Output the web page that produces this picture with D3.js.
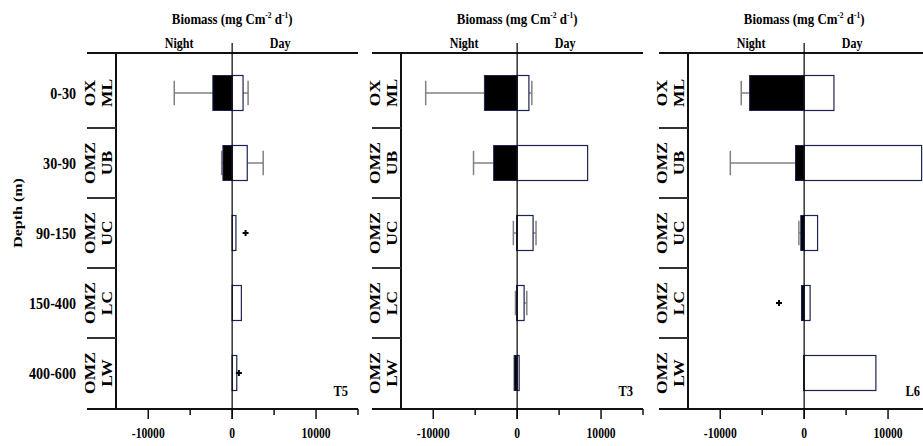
<!DOCTYPE html>
<html>
<head>
<meta charset="utf-8">
<script src="https://cdn.jsdelivr.net/npm/d3@7"></script>
<style>
  body { margin: 0; background: #fff; }
  text { font-family: "Liberation Serif", "Times New Roman", serif; font-weight: bold; }
</style>
</head>
<body>
<div id="chart"></div>
<script>
// data (mg C m-2 d-1); night values are negative
const depths = ["0-30", "30-90", "90-150", "150-400", "400-600"];
const zones = [["OX", "ML"], ["OMZ", "UB"], ["OMZ", "UC"], ["OMZ", "LC"], ["OMZ", "LW"]];
const stations = ["T5", "T3", "L6"];

const nightT5 = [-2300, -1100, 0, 0, 0];
const nightErrT5 = [-6900, -1250, 0, 0, 0];
const dayT5 = [1300, 1800, 450, 1100, 550];
const dayErrT5 = [1900, 3700, 0, 0, 0];
const outT5 = [{ depth: "90-150", value: 1600 }, { depth: "400-600", value: 800 }];

const nightT3 = [-3900, -2800, -50, -50, -360];
const nightErrT3 = [-10900, -5200, -450, -200, 0];
const dayT3 = [1400, 8400, 1900, 830, 240];
const dayErrT3 = [1750, 0, 2250, 1150, 0];
const outT3 = [];

const nightL6 = [-6500, -1030, -400, -320, -60];
const nightErrL6 = [-7500, -8800, -630, 0, 0];
const dayL6 = [3550, 14000, 1600, 710, 8550];
const dayErrL6 = [0, 0, 0, 0, 0];
const outL6 = [{ depth: "150-400", value: -3000 }];

const xDomain = [-17300, 15000];
const majorTicks = [-10000, 0, 10000];
const minorTicks = [-5000, 5000, 15000];

const panels = [
  { name: stations[0], night: nightT5, nightErr: nightErrT5, day: dayT5, dayErr: dayErrT5, out: outT5 },
  { name: stations[1], night: nightT3, nightErr: nightErrT3, day: dayT3, dayErr: dayErrT3, out: outT3 },
  { name: stations[2], night: nightL6, nightErr: nightErrL6, day: dayL6, dayErr: dayErrL6, out: outL6 },
];

const W = 923, H = 446;
const panelX = [87, 372, 659];
const panelW = 271;
const topY = 53, botY = 409;
const strokeCol = "#1b2350";
const errCol = "#808080";
const sx = 0.83; // the figure's lettering is narrow and tall

const svg = d3.select("#chart").append("svg").attr("width", W).attr("height", H);

const y = d3.scaleBand().domain(depths).range([58, 408]).paddingInner(0.5).paddingOuter(0.25);

// horizontal text squeezed in x
function label(parent, tx, ty, str, size, anchor) {
  return parent.append("text")
    .attr("transform", "translate(" + tx + "," + ty + ") scale(" + sx + ",1)")
    .attr("text-anchor", anchor || "middle")
    .attr("font-size", size)
    .text(str);
}

depths.forEach(d => {
  label(svg, 76, y(d) + y.bandwidth() / 2 + 6, d, 17, "end");
});

svg.append("text")
  .attr("transform", "translate(22,213) scale(" + sx + ",1) rotate(-90)")
  .attr("text-anchor", "middle")
  .attr("font-size", 16)
  .text("Depth (m)");

panels.forEach((p, pi) => {
  const x0 = panelX[pi];
  const x = d3.scaleLinear().domain(xDomain).range([x0, x0 + panelW]);
  const g = svg.append("g");
  const axX = x0 + 29;
  const rows = depths.map((d, i) => ({
    depth: d, zone: zones[i],
    night: p.night[i], nightErr: p.nightErr[i],
    day: p.day[i], dayErr: p.dayErr[i]
  }));

  // title
  const t = label(g, x(0), 24, "", 15.5);
  t.append("tspan").text("Biomass (mg Cm");
  t.append("tspan").attr("font-size", 9).attr("dy", -6).text("-2");
  t.append("tspan").attr("dy", 6).text(" d");
  t.append("tspan").attr("font-size", 9).attr("dy", -6).text("-1");
  t.append("tspan").attr("dy", 6).text(")");

  label(g, x(0) - 53, 48, "Night", 14.5);
  label(g, x(0) + 48, 48, "Day", 14.5);

  // frame lines
  g.append("line").attr("x1", x0).attr("x2", x0 + panelW).attr("y1", topY).attr("y2", topY)
    .attr("stroke", "#111").attr("stroke-width", 2);
  g.append("line").attr("x1", x0).attr("x2", x0 + panelW).attr("y1", botY).attr("y2", botY)
    .attr("stroke", "#111").attr("stroke-width", 2);
  g.append("line").attr("x1", axX).attr("x2", axX).attr("y1", topY).attr("y2", botY)
    .attr("stroke", "#111").attr("stroke-width", 2);

  // row separators
  g.selectAll("line.sep")
    .data(depths.slice(1))
    .enter()
    .append("line")
    .attr("x1", x0).attr("x2", axX)
    .attr("y1", d => y(d) - y.step() * 0.25)
    .attr("y2", d => y(d) - y.step() * 0.25)
    .attr("stroke", "#333").attr("stroke-width", 2);

  // zone labels, two rotated lines
  rows.forEach(r => {
    const cy = y(r.depth) + y.bandwidth() / 2;
    const zt = g.append("text")
      .attr("transform", "translate(" + (x0 + 8) + "," + cy + ") scale(" + sx + ",1) rotate(-90)")
      .attr("text-anchor", "middle")
      .attr("font-size", 17.5);
    zt.append("tspan").attr("x", 0).attr("y", 0).text(r.zone[0]);
    zt.append("tspan").attr("x", 0).attr("y", 21).text(r.zone[1]);
  });

  // ticks on the bottom axis
  g.selectAll("line.major").data(majorTicks).enter().append("line")
    .attr("x1", d => x(d)).attr("x2", d => x(d))
    .attr("y1", botY).attr("y2", botY + 10)
    .attr("stroke", "#111").attr("stroke-width", 1.5);
  g.selectAll("line.minor").data(minorTicks).enter().append("line")
    .attr("x1", d => x(d)).attr("x2", d => x(d))
    .attr("y1", botY).attr("y2", botY + 6)
    .attr("stroke", "#111").attr("stroke-width", 1.5);
  majorTicks.forEach(v => label(g, x(v), 438, v, 14));

  // error bars (drawn behind bars)
  const errs = [];
  rows.forEach(r => {
    if (r.nightErr < r.night) errs.push({ depth: r.depth, from: r.night, to: r.nightErr });
    if (r.dayErr > r.day) errs.push({ depth: r.depth, from: r.day, to: r.dayErr });
  });
  const capH = y.bandwidth() * 0.7;
  errs.forEach(e => {
    const cy = y(e.depth) + y.bandwidth() / 2;
    g.append("line").attr("x1", x(e.from)).attr("x2", x(e.to)).attr("y1", cy).attr("y2", cy)
      .attr("stroke", errCol).attr("stroke-width", 1.5);
    g.append("line").attr("x1", x(e.to)).attr("x2", x(e.to))
      .attr("y1", cy - capH / 2).attr("y2", cy + capH / 2)
      .attr("stroke", errCol).attr("stroke-width", 1.5);
  });

  // night bars
  g.selectAll("rect.night")
    .data(rows.filter(r => r.night < 0))
    .enter()
    .append("rect")
    .attr("x", d => x(d.night))
    .attr("y", d => y(d.depth))
    .attr("width", d => x(0) - x(d.night))
    .attr("height", y.bandwidth())
    .attr("fill", "#000")
    .attr("stroke", strokeCol)
    .attr("stroke-width", 1);

  // day bars
  g.selectAll("rect.day")
    .data(rows.filter(r => r.day > 0))
    .enter()
    .append("rect")
    .attr("x", x(0))
    .attr("y", d => y(d.depth))
    .attr("width", d => x(d.day) - x(0))
    .attr("height", y.bandwidth())
    .attr("fill", "#fff")
    .attr("stroke", strokeCol)
    .attr("stroke-width", 1.2);

  // outliers
  g.selectAll("path.out")
    .data(p.out)
    .enter()
    .append("path")
    .attr("d", d3.symbol(d3.symbolCross, 20))
    .attr("transform", d => "translate(" + x(d.value) + "," + (y(d.depth) + y.bandwidth() / 2) + ")")
    .attr("fill", "#000");

  // zero line
  g.append("line").attr("x1", x(0)).attr("x2", x(0)).attr("y1", 43).attr("y2", botY + 10)
    .attr("stroke", "#000").attr("stroke-width", 1.2);

  // station label
  label(g, x0 + panelW - 10, 396, p.name, 15, "end");
});
</script>
</body>
</html>
